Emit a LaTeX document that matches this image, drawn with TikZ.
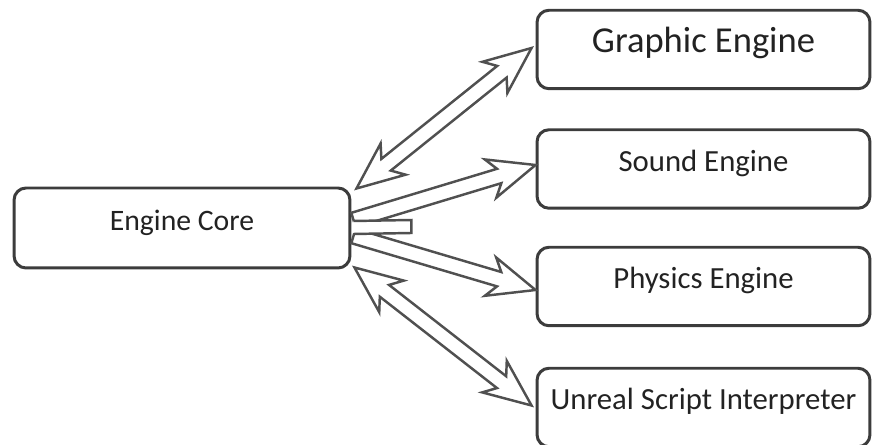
\documentclass[tikz,border=0pt]{standalone}
\usepackage{fontspec}
\setmainfont{Carlito}
\usetikzlibrary{calc}

\definecolor{boxline}{HTML}{3C3C3C}
\definecolor{arrline}{HTML}{505050}
\definecolor{txt}{HTML}{222222}

% hollow arrow sizes
\newcommand{\shw}{0.15cm}  % half shaft width
\newcommand{\hdw}{0.40cm}  % half head width
\newcommand{\hdl}{0.94cm}  % head length (barbs)
\newcommand{\hdj}{0.76cm}  % head length (shaft joint)

\begin{document}
\begin{tikzpicture}[x=0.02cm,y=-0.02cm]
\tikzset{
  module/.style={draw=boxline, line width=1.7pt, rounded corners=0.24cm,
    minimum width=6.66cm, minimum height=1.57cm, text=txt,
    text height=0.7em, text depth=0.42em, inner sep=0pt},
  smalltxt/.style={font=\fontsize{17.5}{20}\selectfont},
  hollow/.style={draw=arrline, line width=1.4pt, fill=white, line join=miter}
}
\useasboundingbox (0,0) rectangle (872,445);

% boxes
\node[module, minimum width=6.72cm, minimum height=1.6cm,
  font=\fontsize{16.9}{20}\selectfont] (core) at (182,228) {Engine Core};
\node[module, font=\fontsize{20.8}{24}\selectfont, text depth=0.33em] (gfx) at (703.5,49.5) {Graphic Engine};
\node[module, smalltxt] (snd) at (703.5,169) {Sound Engine};
\node[module, smalltxt] (phy) at (703.5,286.5) {Physics Engine};
\node[module, smalltxt] (unr) at (703.5,407.5) {Unreal Script Interpreter};

% arrow ends
\coordinate (cg) at ($(core.north east)+(5,2)$);
\coordinate (gc) at ($(gfx.west)+(-4,-1.5)$);
\coordinate (cs) at ($(core.east)+(2,-8)$);
\coordinate (sc) at ($(snd.west)+(0,-4)$);
\coordinate (cp) at ($(core.east)+(2,8)$);
\coordinate (pc) at ($(phy.west)+(0,3.5)$);
\coordinate (cu) at ($(core.south east)+(3,-2)$);
\coordinate (uc) at ($(unr.west)+(-4,-2)$);

% one-way arrows
\foreach \a/\b in {cs/sc, cp/pc}{
  \coordinate (bb) at ($(\b)!\hdl!(\a)$);
  \coordinate (bj) at ($(\b)!\hdj!(\a)$);
  \draw[hollow] ($(\a)!\shw!90:(\b)$) -- ($(bj)!\shw!-90:(\a)$)
    -- ($(bb)!\hdw!-90:(\a)$) -- (\b) -- ($(bb)!\hdw!90:(\a)$)
    -- ($(bj)!\shw!90:(\a)$) -- ($(\a)!\shw!-90:(\b)$) -- cycle;
}

% stem shared by the two one-way arrows
\coordinate (fork) at ($(core.east)+(60,-1)$);
\fill[white] ($(core.east)+(2,-7)$) rectangle ($(fork)+(0,6)$);
\draw[arrline, line width=1.4pt] ($(core.east)+(2,-7)$) -- ($(fork)+(0,-7)$)
  -- ($(fork)+(0,6)$) -- ($(core.east)+(2,6)$);

% two-way arrows
\foreach \a/\b in {cg/gc, cu/uc}{
  \coordinate (ab) at ($(\a)!\hdl!(\b)$);
  \coordinate (aj) at ($(\a)!\hdj!(\b)$);
  \coordinate (bb) at ($(\b)!\hdl!(\a)$);
  \coordinate (bj) at ($(\b)!\hdj!(\a)$);
  \draw[hollow] (\a) -- ($(ab)!\hdw!90:(\b)$) -- ($(aj)!\shw!90:(\b)$)
    -- ($(bj)!\shw!-90:(\a)$) -- ($(bb)!\hdw!-90:(\a)$) -- (\b)
    -- ($(bb)!\hdw!90:(\a)$) -- ($(bj)!\shw!90:(\a)$)
    -- ($(aj)!\shw!-90:(\b)$) -- ($(ab)!\hdw!-90:(\b)$) -- cycle;
}
\end{tikzpicture}
\end{document}
